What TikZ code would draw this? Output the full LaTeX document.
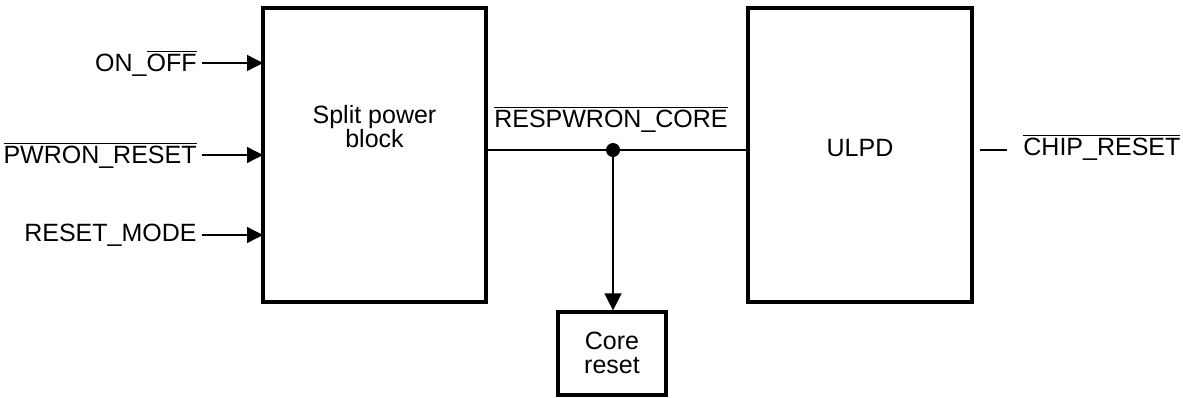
\documentclass[tikz,border=0pt]{standalone}
\usepackage{fontspec}
\setmainfont{Liberation Sans}
\usetikzlibrary{arrows.meta}
\newcommand{\ovl}[1]{$\overline{\hbox{#1}}$}
\begin{document}
\begin{tikzpicture}[x=0.5pt,y=-0.5pt,
  blockbox/.style={draw,line width=1.6pt,inner sep=0pt},
  wire/.style={line width=0.7pt},
  arrowed/.style={wire,-{Triangle[length=8pt,width=8pt]}},
  sig/.style={font=\fontsize{12.5}{14}\selectfont,inner sep=0pt},
  lbl/.style={font=\fontsize{12.5}{14}\selectfont,align=center,inner sep=0pt}]
\useasboundingbox (0,0) rectangle (1183,397);
% blocks
\node[blockbox,minimum width=111.5pt,minimum height=147pt] (spb) at (374.5,155) {};
\node[lbl] at (374.5,127) {Split power\\[-2pt]block};
\node[blockbox,minimum width=112pt,minimum height=147pt] (ulpd) at (860,155) {};
\node[lbl] at (860,148) {ULPD};
\node[blockbox,minimum width=54pt,minimum height=41.5pt] (core) at (612,353.5) {};
\node[lbl] at (612,353) {Core\\[-2pt]reset};
% input signals
\node[sig,anchor=east] (onoff) at (197,63) {ON\_\ovl{OFF}};
\node[sig,anchor=east] (pwron) at (197,155) {\ovl{PWRON\_RESET}};
\node[sig,anchor=east] (rmode) at (197,235) {RESET\_MODE};
\coordinate (in1) at (263,63);
\coordinate (in2) at (263,155);
\coordinate (in3) at (263,235);
\draw[arrowed] ([xshift=2.5pt]onoff.east) -- (in1);
\draw[arrowed] ([xshift=2.5pt]pwron.east |- in2) -- (in2);
\draw[arrowed] ([xshift=2.5pt]rmode.east) -- (in3);
% core reset bus
\coordinate (j) at (613,150);
\draw[wire] (spb.east |- j) -- (ulpd.west |- j);
\fill (j) circle (3.5pt);
\draw[wire,-{Triangle[length=8.5pt,width=8.5pt]}] (j) -- (core.north -| j);
\node[sig] (resp) at (611,119) {\ovl{RESPWRON\_CORE}};
% output
\node[sig,anchor=west] (chip) at (1023,147) {\ovl{CHIP\_RESET}};
\coordinate (out) at (980,150);
\draw[wire] (out) -- ([xshift=-8pt]chip.west |- out);
\end{tikzpicture}
\end{document}
